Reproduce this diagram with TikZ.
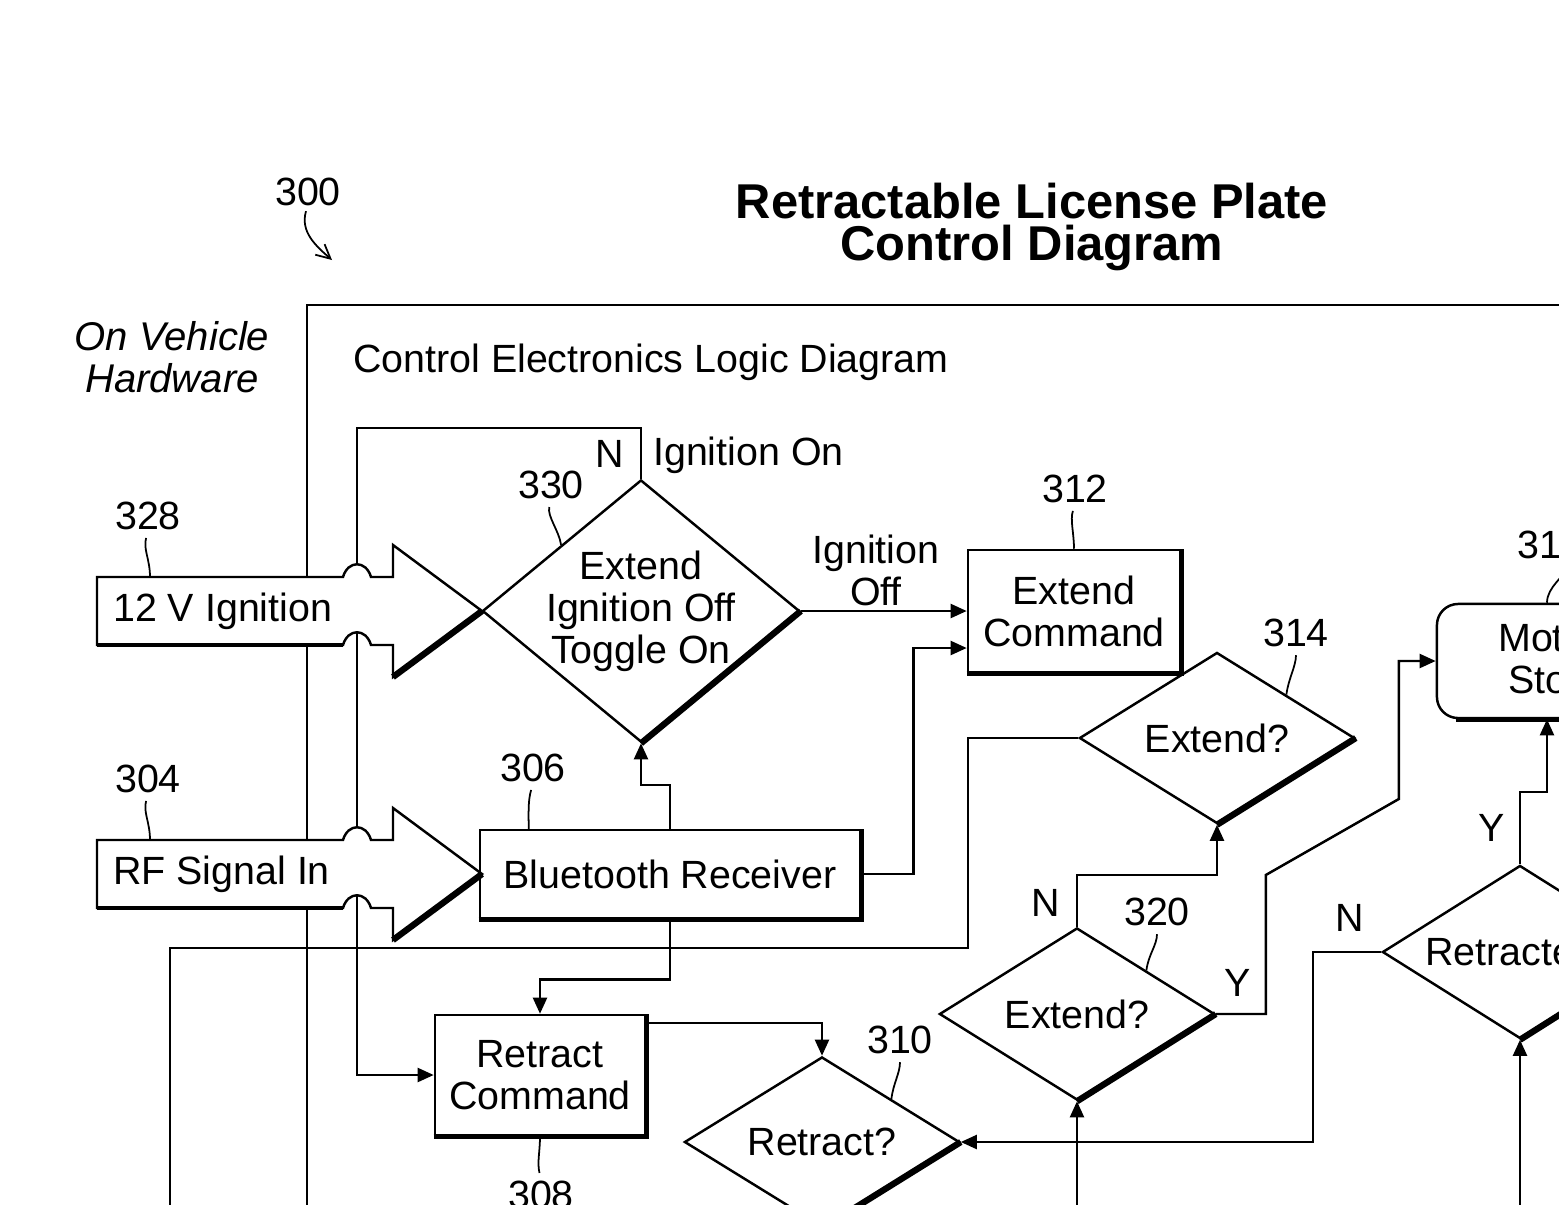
\documentclass[tikz,border=0pt]{standalone}
\usepackage{fontspec}
\setmainfont{Liberation Sans}
\usetikzlibrary{shapes.geometric,arrows.meta,calc}
\tikzset{
	box/.style={draw,rectangle,align=center,inner sep=0pt},
	dia/.style={draw,diamond,inner sep=0pt},
	arr/.style={-{Triangle[length=4.6pt,width=4pt]}},
	boxedge/.style={line width=1.3pt},
	diaedge/.style={line width=1.8pt},
	lead/.style={line width=0.5pt,shorten <=2pt},
	every node/.style={inner sep=0pt}
}
\begin{document}
\begin{tikzpicture}[x=0.01cm,y=-0.01cm,line width=0.7pt,font=\fontsize{11.2}{11.9}\selectfont]
	\useasboundingbox (0,0) rectangle (1559,1205);
	\clip (0,0) rectangle (1559,1205);
	% headings
	\node[font=\bfseries\fontsize{13.9}{11.9}\selectfont,align=center] (title) at (1032,227) {Retractable License Plate\\Control Diagram};
	\node (fig) at (308,192) {300};
	\coordinate (figtip) at (332,260);
	\draw[line width=0.5pt,-{Straight Barb[length=4pt,width=4pt]}] (fig.south) ++(-2,4) .. controls (300,232) and (316,246) .. (figtip);
	\draw (307,1300) |- (1700,305);
	\node[font=\itshape\fontsize{11.4}{11.9}\selectfont,align=center] (hw) at (172,357) {On Vehicle\\Hardware};
	\node[anchor=west] (celd) at (352,362) {Control Electronics Logic Diagram};
	% blocks
	\node[box,minimum width=2.12cm,minimum height=1.22cm] (extcmd) at (1074,611) {Extend\\Command};
	\node[box,minimum width=3.80cm,minimum height=0.88cm] (bt) at (670,874) {Bluetooth Receiver};
	\node[box,minimum width=2.10cm,minimum height=1.20cm] (retcmd) at (540,1075) {Retract\\Command};
	\node[box,rounded corners=6pt,minimum width=2.20cm,minimum height=1.14cm] (motor) at (1547,661) {};
	\node[anchor=west] (motA) at (1497,638) {Mot};
	\node[anchor=west] (motB) at (1507,680) {Sto};
	\foreach \n/\x/\y/\w/\h in {d330/641/611/3.17/2.62,d314/1217/738/2.75/1.71,d320/1077/1014/2.75/1.72,d310/822/1142/2.75/1.70,dret/1520/952/2.75/1.73}
	\node[dia,minimum width=\w cm,minimum height=\h cm] (\n) at (\x,\y) {};
	\node[align=center] (t330) at (d330) {Extend\\Ignition Off\\Toggle On};
	\node (t314) at (d314) {Extend?};
	\node (t320) at (d320) {Extend?};
	\node (t310) at (d310) {Retract?};
	\node[anchor=west] (tret) at (1424,952) {Retracte};
	\foreach \n in {extcmd,bt,retcmd}
	\draw[boxedge] (\n.south west) -- (\n.south east) -- (\n.north east);
	\draw[boxedge] ($(motor.south west)+(20,0)$) -- (motor.south east);
	\foreach \n in {d330,d314,d320,d310,dret}
	\draw[diaedge] (\n.south) -- (\n.east);
	% connectors
	\coordinate (nloop) at (357,428);
	\coordinate (vlow) at (170,1205);
	\coordinate (up320) at (1077,1205);
	\coordinate (upret) at (1520,1205);
	\draw[arr] (d330.north) |- (nloop) |- (retcmd.west);
	\draw (vlow) |- (968,948) |- (d314.west);
	\draw[arr] (d330.east) -- (extcmd.west);
	\draw[arr] (bt.north) -- ++(0,-44) -| (d330.south);
	\draw[arr] (bt.east) -| ($(extcmd.west)+(-53,37)$) -- ($(extcmd.west)+(0,37)$);
	\draw[arr] (bt.south) -- ++(0,60) -| (retcmd.north);
	\draw[arr] ($(retcmd.north east)+(0,9)$) -| (d310.north);
	\draw[arr] (d320.north) -- ++(0,-52) -| (d314.south);
	\draw[arr] (d320.east) -- ++(50,0) -- ++(0,-139) -- ++(133,-76) |- (motor.west);
	\draw[arr] (dret.west) -- ++(-68,0) |- (d310.east);
	\draw[arr] (dret.north) -- ++(0,-72) -| (motor.south);
	\draw[arr] (up320) -- (d320.south);
	\draw[arr] (upret) -- (dret.south);
	% signal inputs
	\foreach \c/\t/\n in {611/12 V Ignition/ign,874/RF Signal In/rf}{
		\draw[fill=white] (97,\c-34) -- (343,\c-34) .. controls (348,\c-51) and (366,\c-51) .. (371,\c-34) -- (393,\c-34) -- (393,\c-66) -- (482,\c)
		-- (393,\c+66) -- (393,\c+34) -- (371,\c+34) .. controls (366,\c+17) and (348,\c+17) .. (343,\c+34) -- (97,\c+34) -- cycle;
		\draw[line width=1.1pt] (97,\c+34) -- (343,\c+34);
		\draw[diaedge] (393,\c+66) -- (482,\c);
		\node[anchor=west] (\n) at (112,\c) {\t};
		\coordinate (\n-top) at (150,\c-34);
	}
	% branch texts
	\node (n330) at (610,454) {N};
	\node[anchor=west] (ion) at (652,455) {Ignition On};
	\node[align=center] (ioff) at (876,570) {Ignition\\Off};
	\node (n320) at (1046,903) {N};
	\node (y320) at (1238,983) {Y};
	\node (nret) at (1350,918) {N};
	\node (yret) at (1492,828) {Y};
	% reference numerals
	\node (l328) at (148,516) {328};
	\node (l304) at (148,779) {304};
	\node (l306) at (533,768) {306};
	\node (l330) at (551,485) {330};
	\node (l312) at (1075,489) {312};
	\node (l314) at (1296,633) {314};
	\node (l320) at (1157,912) {320};
	\node (l310) at (900,1040) {310};
	\node (l308) at (541,1195) {308};
	\node[anchor=west] (l31) at (1516,545) {31};
	\draw[lead] (l328.south) .. controls +(-5,18) and +(0,-18) .. (ign-top);
	\draw[lead] (l304.south) .. controls +(-5,18) and +(0,-18) .. (rf-top);
	\draw[lead] (l306.south) .. controls +(-5,18) and +(0,-18) .. ($(bt.north west)+(50,0)$);
	\draw[lead] (l330.south) .. controls +(-4,16) and +(-2,-14) .. (d330.north west);
	\draw[lead] (l312.south) .. controls +(-5,16) and +(0,-16) .. (extcmd.north);
	\draw[lead] (l314.south) .. controls +(0,18) and +(2,-16) .. (d314.north east);
	\draw[lead] (l320.south) .. controls +(0,18) and +(2,-16) .. (d320.north east);
	\draw[lead] (l310.south) .. controls +(0,18) and +(2,-16) .. (d310.north east);
	\draw[lead] (l308.north) .. controls +(-4,-18) and +(0,16) .. (retcmd.south);
	\draw[lead] ($(l31.south)+(30,0)$) .. controls +(-4,16) and +(0,-16) .. (motor.north);
\end{tikzpicture}
\end{document}
